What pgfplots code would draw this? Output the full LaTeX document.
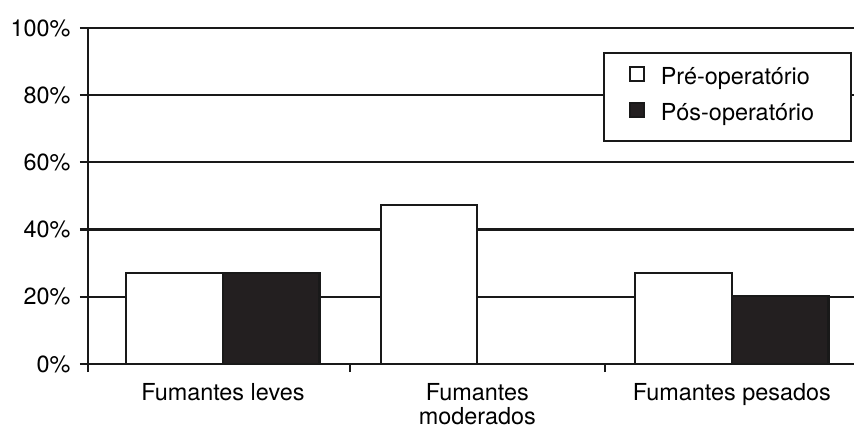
\documentclass[border=0pt]{standalone}
\usepackage{pgfplots}
\pgfplotsset{compat=1.18}
\usepackage{fontspec}
\setmainfont{TeX Gyre Heros}
\newcommand\f{\fontsize{23.5}{24}\selectfont}
\definecolor{barblack}{RGB}{35,31,32}
\begin{document}
\begin{tikzpicture}
\useasboundingbox (0,0) rectangle (854bp,429bp);
\begin{axis}[
  at={(88bp,65bp)}, anchor=south west,
  width=766bp, height=336bp, scale only axis,
  xmin=-0.53, xmax=2.48, ymin=0, ymax=100,
  axis lines*=left,
  axis line style={line width=2.2bp, black!90},
  tick align=outside,
  major tick length=8bp,
  tick style={line width=2.2bp, black!90},
  ytick={0,20,40,60,80,100},
  yticklabel={\pgfmathprintnumber{\tick}\%},
  /pgf/number format/assume math mode=true,
  yticklabel style={font=\f, xshift=-6bp},
  xtick={-0.53,0.5,1.5},
  xticklabels={},
  extra x ticks={0,1,2},
  extra x tick labels={Fumantes leves,{Fumantes\\moderados},Fumantes pesados},
  extra x tick style={major tick length=0pt, xticklabel style={font=\f, align=center, yshift=-16bp}},
  ymajorgrids,
  grid style={line width=2.2bp, black!90},
  ybar, bar width=0.38,
  legend style={at={(0.672,0.929)}, anchor=north west, draw=black!90, line width=2.2bp,
    font=\f, inner xsep=0pt, inner ysep=8bp, /tikz/row sep=0pt, /tikz/column sep=0pt,
    nodes={inner sep=0pt, text height=24bp, text depth=12bp}, legend cell align=left},
  legend image code/.code={\path[draw=none,fill=none] (-26bp,0) rectangle (31bp,0);
    \draw[#1, line width=1.5bp] (0bp,-2bp) rectangle (14bp,12bp);},
]
\addplot[bar shift=-0.19, draw=black!90, line width=2.2bp, fill=white]
  coordinates {(0,27.1) (1,47.3) (2,27.0)};
\addlegendentry{\makebox[190bp][l]{Pré-operatório}}
\addplot[bar shift=0.19, draw=black!90, line width=2.2bp, fill=barblack]
  coordinates {(0,27.1) (1,0) (2,20.2)};
\addlegendentry{\makebox[190bp][l]{Pós-operatório}}
\end{axis}
\end{tikzpicture}
\end{document}
